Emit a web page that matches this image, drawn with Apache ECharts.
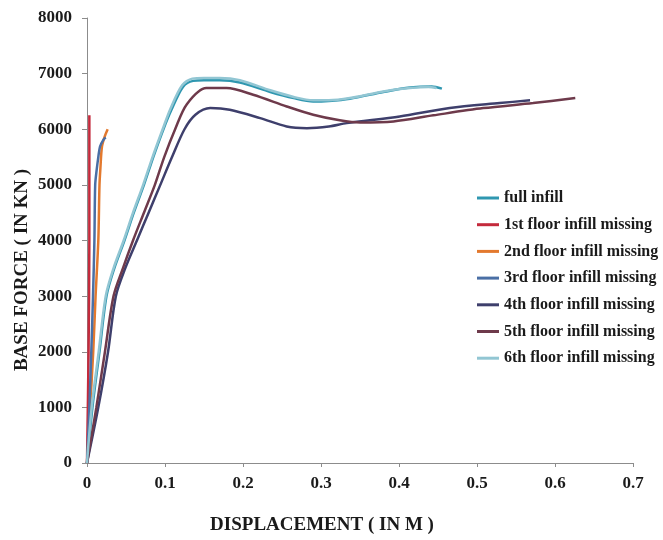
<!DOCTYPE html>
<html>
<head>
<meta charset="utf-8">
<script src="https://cdn.jsdelivr.net/npm/echarts@6/dist/echarts.min.js"></script>
<style>html,body{margin:0;padding:0;background:#fff}#c{width:663px;height:540px}</style>
</head>
<body>
<div id="c"></div>
<script>
const seriesNames = ['full infill','1st floor infill missing','2nd floor infill missing','3rd floor infill missing','4th floor infill missing','5th floor infill missing','6th floor infill missing'];
const xTicks = [0, 0.1, 0.2, 0.3, 0.4, 0.5, 0.6, 0.7];
const yTicks = [0, 1000, 2000, 3000, 4000, 5000, 6000, 7000, 8000];

const fullInfill = [[0,0],[0.007,1000],[0.016,2000],[0.025,3000],[0.035,3500],[0.048,4000],[0.06,4500],[0.073,5000],[0.085,5500],[0.098,6000],[0.108,6340],[0.123,6760],[0.136,6870],[0.15,6880],[0.17,6880],[0.196,6840],[0.235,6670],[0.265,6560],[0.29,6500],[0.31,6510],[0.337,6550],[0.38,6670],[0.414,6750],[0.442,6770],[0.455,6730]];
const floor1 = [[0,0],[0.002,2000],[0.003,4000],[0.003,6250]];
const floor2 = [[0,0],[0.004,1000],[0.008,2000],[0.011,3000],[0.0145,4000],[0.016,5000],[0.0172,5300],[0.0192,5690],[0.023,5880],[0.0265,6000]];
const floor3 = [[0,0],[0.003,1000],[0.0055,2000],[0.0077,3000],[0.0095,4000],[0.0105,5000],[0.0124,5270],[0.0145,5500],[0.0167,5690],[0.021,5810],[0.024,5850]];
const floor4 = [[0,0],[0.0145,1000],[0.027,2000],[0.037,3000],[0.049,3500],[0.064,4000],[0.079,4500],[0.094,5000],[0.109,5500],[0.125,6000],[0.139,6260],[0.158,6380],[0.183,6350],[0.222,6200],[0.256,6050],[0.282,6020],[0.31,6050],[0.333,6110],[0.401,6230],[0.465,6380],[0.529,6470],[0.568,6520]];
const floor5 = [[0,0],[0.012,1000],[0.023,2000],[0.034,3000],[0.046,3500],[0.059,4000],[0.073,4500],[0.087,5000],[0.099,5500],[0.113,6000],[0.128,6450],[0.153,6740],[0.179,6740],[0.213,6620],[0.256,6410],[0.29,6260],[0.324,6160],[0.35,6120],[0.393,6140],[0.444,6250],[0.508,6380],[0.572,6470],[0.626,6560]];
const floor6 = [[0,0],[0.006,1000],[0.015,2000],[0.024,3000],[0.034,3500],[0.047,4000],[0.059,4500],[0.072,5000],[0.084,5500],[0.097,6000],[0.107,6370],[0.122,6790],[0.135,6910],[0.15,6920],[0.17,6920],[0.196,6880],[0.235,6700],[0.265,6580],[0.29,6520],[0.31,6520],[0.337,6560],[0.38,6680],[0.414,6740],[0.438,6760],[0.448,6740]];

const colors = ['#2f97b0','#c42a3c','#e3792e','#4a6fa5','#3e3f6c','#6e3a4b','#92c6d3'];
const allData = [fullInfill, floor1, floor2, floor3, floor4, floor5, floor6];

const serif = '"Liberation Serif", "Times New Roman", serif';
const chart = echarts.init(document.getElementById('c'), null, {renderer:'canvas'});
chart.setOption({
  animation: false,
  color: colors,
  grid: {left: 87, top: 18, right: 30, bottom: 77, containLabel: false},
  xAxis: {
    type: 'value', min: xTicks[0], max: xTicks[xTicks.length-1], interval: 0.1,
    splitLine: {show: false},
    axisLine: {lineStyle: {color: '#8c8c8c', width: 1}},
    axisTick: {show: true, inside: false, length: 4, lineStyle: {color: '#8c8c8c'}},
    axisLabel: {margin: 12, color: '#1a1a1a', fontFamily: serif, fontWeight: 'bold', fontSize: 17,
      formatter: v => String(Math.round(v*10)/10)}
  },
  yAxis: {
    type: 'value', min: yTicks[0], max: yTicks[yTicks.length-1], interval: 1000,
    splitLine: {show: false},
    axisLine: {show: true, lineStyle: {color: '#8c8c8c', width: 1}},
    axisTick: {show: true, inside: false, length: 5, lineStyle: {color: '#8c8c8c'}},
    axisLabel: {margin: 15, color: '#1a1a1a', fontFamily: serif, fontWeight: 'bold', fontSize: 17,
      formatter: v => String(v)}
  },
  legend: {
    orient: 'vertical', left: 477, top: 190, padding: 0,
    icon: 'rect', itemWidth: 22, itemHeight: 3, itemGap: 10.7,
    textStyle: {fontFamily: serif, fontWeight: 'bold', fontSize: 16, color: '#1a1a1a', lineHeight: 16},
    data: seriesNames
  },
  graphic: [
    {type: 'text', x: 22, y: 270, rotation: Math.PI/2,
     style: {text: 'BASE FORCE ( IN KN )', align: 'center', verticalAlign: 'middle', font: 'bold 19px ' + serif, fill: '#1a1a1a'}},
    {type: 'text', x: 322, y: 525,
     style: {text: 'DISPLACEMENT ( IN M )', align: 'center', verticalAlign: 'middle', font: 'bold 19px ' + serif, fill: '#1a1a1a'}}
  ],
  series: allData.map((d, i) => ({
    name: seriesNames[i], type: 'line', data: d, smooth: 0.3,
    symbol: 'none', lineStyle: {width: 2.5, color: colors[i]}, itemStyle: {color: colors[i]}
  }))
});
</script>
</body>
</html>
